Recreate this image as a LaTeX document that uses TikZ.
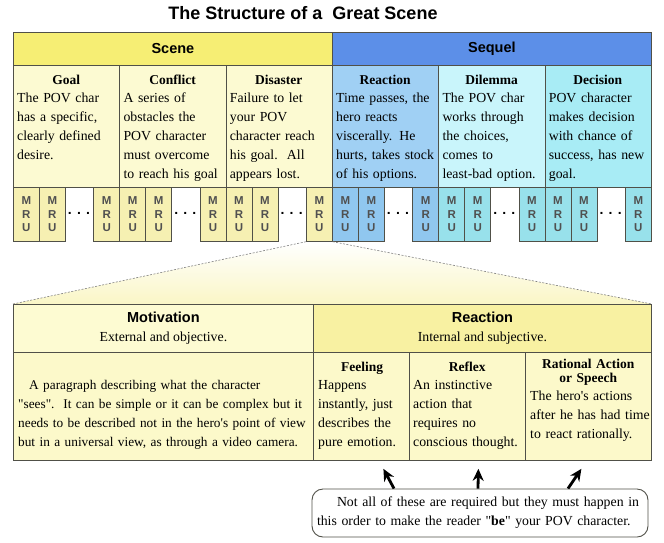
\documentclass[tikz,border=0pt]{standalone}
\usepackage{fontspec}
\setmainfont{Liberation Serif}
\setsansfont{Liberation Sans}
\usepackage{xcolor}
\usetikzlibrary{arrows.meta,positioning,backgrounds}

\definecolor{scenehead}{HTML}{F6EE74}
\definecolor{scenebody}{HTML}{FCFAD2}
\definecolor{scenemru}{HTML}{F6F0B2}
\definecolor{sequelhead}{HTML}{5C8FE8}
\definecolor{reactbody}{HTML}{A0D0F4}
\definecolor{reactmru}{HTML}{90C7EF}
\definecolor{dilembody}{HTML}{C9F5FB}
\definecolor{decisbody}{HTML}{A8ECF5}
\definecolor{cyanmru}{HTML}{98E1EB}
\definecolor{motivhead}{HTML}{FDFBD2}
\definecolor{reacthead}{HTML}{F8F1A2}
\definecolor{lowbody}{HTML}{FCF9CA}
\definecolor{lowzoom}{HTML}{FAF6C6}
\definecolor{edge}{HTML}{505048}
\definecolor{mrutext}{HTML}{505050}

% centred column heading, then the body lines are never rewrapped
\newcommand{\colhead}[2][17]{{\centering\bfseries\fontsize{13.5}{#1}\selectfont#2\par}\vspace{-1.5pt}\hsize=200pt\noindent}
\newcommand{\qq}{\textquotedbl}

\begin{document}
\begin{tikzpicture}[x=1pt, y=-1pt, >=Stealth,
  cell/.style={draw=edge, line width=0.8pt, inner sep=0pt, anchor=north west},
  head/.style={font=\sffamily\bfseries\fontsize{14.5}{17}\selectfont},
  coltext/.style={inner sep=0pt, align=left, font=\fontsize{13.8}{19}\selectfont},
  mru/.style={draw=edge, line width=0.7pt, anchor=north west, minimum width=26pt, minimum height=54pt, inner sep=0pt, align=center, text=mrutext, font=\sffamily\bfseries\fontsize{11.5}{13.5}\selectfont},
  dots/.style={font=\sffamily\bfseries\fontsize{14}{14}\selectfont},
  zoomline/.style={draw=gray, line width=0.6pt, dash pattern=on 2pt off 1.5pt},
  pointer/.style={line width=2.8pt, -{Stealth[length=12pt,width=11pt]}},
  note/.style={draw=edge, line width=0.9pt, rounded corners=11pt, minimum width=336pt, minimum height=48pt, text width=326pt, inner sep=4pt, align=left, font=\fontsize{13.8}{19}\selectfont}]
  \useasboundingbox (0,0) rectangle (664,542);

  % title
  \node[font=\sffamily\bfseries\fontsize{18}{20}\selectfont] (title) at (303,13) {The Structure of a\ \ Great Scene};

  % scene / sequel table
  \node[cell, head, fill=scenehead, minimum width=319pt, minimum height=33pt] (scene) at (13,32) {Scene};
  \node[cell, head, fill=sequelhead, minimum width=319pt, minimum height=33pt] (sequel) at (332,32) {Sequel};
  \foreach \name/\col [count=\i from 0] in {goal/scenebody,conflict/scenebody,disaster/scenebody,reaction/reactbody,dilemma/dilembody,decision/decisbody}
    \node[cell, fill=\col, minimum width=106.33pt, minimum height=122pt] (\name) at (13+106.33*\i,65) {};

  \node[coltext, text width=98pt, below right=10pt and 4pt of goal.north west] (goaltext) {\colhead{Goal}The POV char\\has a specific,\\clearly defined\\desire.};
  \node[coltext, text width=98pt, below right=10pt and 4pt of conflict.north west] (conflicttext) {\colhead{Conflict}A series of\\obstacles the\\POV character\\must overcome\\to reach his goal};
  \node[coltext, text width=98pt, below right=10pt and 4pt of disaster.north west] (disastertext) {\colhead{Disaster}Failure to let\\your POV\\character reach\\his goal.\ \ All\\appears lost.};
  \node[coltext, text width=98pt, below right=10pt and 4pt of reaction.north west] (reactiontext) {\colhead{Reaction}Time passes, the\\hero reacts\\viscerally. He\\hurts, takes stock\\of his options.};
  \node[coltext, text width=98pt, below right=10pt and 4pt of dilemma.north west] (dilemmatext) {\colhead{Dilemma}The POV char\\works through\\the choices,\\comes to\\least-bad option.};
  \node[coltext, text width=98pt, below right=10pt and 4pt of decision.north west] (decisiontext) {\colhead{Decision}POV character\\makes decision\\with chance of\\success, has new\\goal.};

  % MRU row
  \foreach \col [count=\i from 0] in {scenemru,scenemru,scenemru,reactmru,cyanmru,cyanmru} {
    \node[mru, fill=\col] (mru\i-a) at (13+106.33*\i,187) {M\\R\\U};
    \node[mru, fill=\col] (mru\i-b) at (39+106.33*\i,187) {M\\R\\U};
    \node[dots] (dots\i) at (79+106.33*\i,213) {. . .};
    \node[mru, fill=\col] (mru\i-c) at (93.33+106.33*\i,187) {M\\R\\U};
  }

  % motivation / reaction table
  \node[cell, fill=motivhead, minimum width=300pt, minimum height=48pt, align=center, font=\fontsize{13.8}{19}\selectfont] (motiv) at (13,304) {{\sffamily\bfseries\fontsize{14.5}{19}\selectfont Motivation}\\External and objective.\rule[-4pt]{0pt}{4pt}};
  \node[cell, fill=reacthead, minimum width=338pt, minimum height=48pt, align=center, font=\fontsize{13.8}{19}\selectfont] (react) at (313,304) {{\sffamily\bfseries\fontsize{14.5}{19}\selectfont Reaction}\\Internal and subjective.\rule[-4pt]{0pt}{4pt}};
  \node[cell, fill=lowbody, minimum width=300pt, minimum height=108pt] (motivbody) at (13,352) {};
  \node[cell, fill=lowbody, minimum width=96pt, minimum height=108pt] (feeling) at (313,352) {};
  \node[cell, fill=lowbody, minimum width=116pt, minimum height=108pt] (reflex) at (409,352) {};
  \node[cell, fill=lowbody, minimum width=126pt, minimum height=108pt] (rational) at (525,352) {};

  \node[coltext, text width=320pt, font=\fontsize{13.3}{19}\selectfont, below right=28pt and 5pt of motivbody.north west] (motivtext) {\hspace*{11pt}A paragraph describing what the character\\\qq sees\qq.\ \ It can be simple or it can be complex but it\\needs to be described not in the hero\textquotesingle s point of view\\but in a universal view, as through a video camera.};
  \node[coltext, text width=88pt, below right=10pt and 5pt of feeling.north west] (feelingtext) {\colhead{Feeling}Happens\\instantly, just\\describes the\\pure emotion.};
  \node[coltext, text width=108pt, below right=10pt and 4pt of reflex.north west] (reflextext) {\colhead{Reflex}An instinctive\\action that\\requires no\\conscious thought.};
  \node[coltext, text width=116pt, below right=7pt and 5pt of rational.north west] (rationaltext) {\colhead[14]{Rational Action\\or Speech}The hero\textquotesingle s actions\\after he has had time\\to react rationally.};

  % zoom from the last scene MRU
  \begin{scope}[on background layer]
    \shade[top color=white, bottom color=lowzoom] (mru2-c.south west) -- (mru2-c.south east) -- (react.north east) -- (motiv.north west) -- cycle;
  \end{scope}
  \draw[zoomline] (mru2-c.south west) -- (motiv.north west);
  \draw[zoomline] (mru2-c.south east) -- (react.north east);

  % note
  \node[note] (note) at (480,513) {\hspace*{20pt}Not all of these are required but they must happen in\\this order to make the reader \qq\textbf{be}\qq\ your POV character.};
  \draw[pointer] ([xshift=-86pt]note.north) -- ([xshift=22pt,yshift=-8pt]feeling.south);
  \draw[pointer] ([xshift=-2pt]note.north) -- ([xshift=11pt,yshift=-8pt]reflex.south);
  \draw[pointer] ([xshift=88pt]note.north) -- ([xshift=-7pt,yshift=-8pt]rational.south);
\end{tikzpicture}
\end{document}
